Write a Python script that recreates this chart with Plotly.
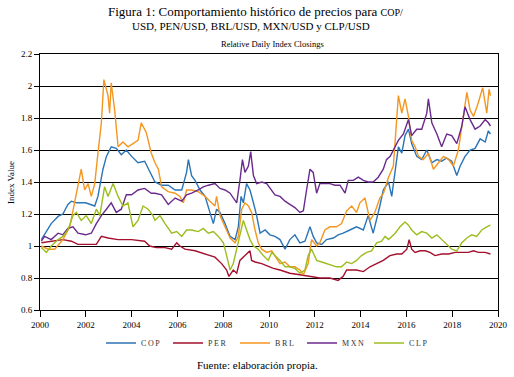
import plotly.graph_objects as go

# ---- data ----
cop_x = [2000.06, 2000.49, 2000.79, 2001.00, 2001.22, 2001.37, 2001.59, 2001.99, 2002.39, 2002.53,
         2002.75, 2002.90, 2003.11, 2003.33, 2003.55, 2003.77, 2004.00, 2004.28, 2004.57, 2004.86,
         2005.02, 2005.31, 2005.60, 2005.90, 2006.19, 2006.40, 2006.48, 2006.62, 2006.77, 2006.99,
         2007.21, 2007.42, 2007.57, 2007.71, 2007.86, 2008.08, 2008.30, 2008.52, 2008.66, 2008.78,
         2008.88, 2009.02, 2009.17, 2009.32, 2009.46, 2009.61, 2009.83, 2010.04, 2010.26, 2010.48,
         2010.70, 2010.91, 2011.13, 2011.35, 2011.57, 2011.79, 2011.93, 2012.08, 2012.30, 2012.51,
         2012.81, 2013.02, 2013.24, 2013.53, 2013.82, 2014.12, 2014.33, 2014.55, 2014.70, 2014.84,
         2014.99, 2015.22, 2015.36, 2015.51, 2015.65, 2015.80, 2015.94, 2016.09, 2016.23, 2016.45,
         2016.67, 2016.89, 2017.11, 2017.33, 2017.54, 2017.76, 2017.98, 2018.20, 2018.35, 2018.56,
         2018.78, 2019.00, 2019.22, 2019.44, 2019.58, 2019.67]
cop_y = [1.04, 1.14, 1.185, 1.20, 1.26, 1.28, 1.27, 1.27, 1.25, 1.31,
         1.48, 1.56, 1.62, 1.61, 1.57, 1.60, 1.56, 1.52, 1.53, 1.44,
         1.40, 1.38, 1.38, 1.35, 1.35, 1.46, 1.54, 1.44, 1.41, 1.35,
         1.31, 1.21, 1.14, 1.23, 1.21, 1.14, 1.06, 1.04, 1.12, 1.31,
         1.27, 1.39, 1.35, 1.27, 1.19, 1.08, 1.10, 1.07, 1.06, 1.04,
         0.98, 1.04, 1.07, 1.02, 1.03, 1.12, 1.06, 1.02, 1.01, 1.04,
         1.05, 1.07, 1.08, 1.10, 1.12, 1.10, 1.19, 1.08, 1.16, 1.25,
         1.35, 1.40, 1.31, 1.48, 1.62, 1.58, 1.69, 1.73, 1.64, 1.56,
         1.54, 1.60, 1.52, 1.54, 1.53, 1.55, 1.53, 1.44, 1.50, 1.56,
         1.60, 1.61, 1.67, 1.65, 1.72, 1.70]

per_x = [2000.06, 2000.49, 2001.00, 2001.37, 2001.66, 2002.10, 2002.46, 2002.68, 2002.97, 2003.41,
         2004.00, 2004.57, 2004.79, 2005.08, 2005.46, 2005.75, 2005.97, 2006.11, 2006.33, 2006.77,
         2007.21, 2007.64, 2007.93, 2008.15, 2008.25, 2008.44, 2008.59, 2008.73, 2008.95, 2009.17,
         2009.24, 2009.39, 2009.68, 2009.97, 2010.19, 2010.48, 2010.91, 2011.35, 2011.79, 2012.22,
         2012.66, 2013.02, 2013.24, 2013.39, 2013.82, 2014.12, 2014.41, 2014.70, 2014.99, 2015.28,
         2015.58, 2015.80, 2016.02, 2016.12, 2016.23, 2016.38, 2016.60, 2016.82, 2017.03, 2017.25,
         2017.54, 2017.84, 2018.13, 2018.42, 2018.71, 2018.93, 2019.15, 2019.44, 2019.67]
per_y = [1.02, 1.03, 1.04, 1.03, 1.01, 1.01, 1.01, 1.06, 1.05, 1.04,
         1.04, 1.03, 1.00, 0.99, 0.99, 0.98, 1.02, 1.00, 0.98, 0.97,
         0.95, 0.93, 0.89, 0.85, 0.81, 0.85, 0.83, 0.91, 0.94, 0.97,
         0.91, 0.90, 0.89, 0.87, 0.86, 0.85, 0.83, 0.82, 0.81, 0.80,
         0.80, 0.785, 0.81, 0.85, 0.85, 0.84, 0.87, 0.89, 0.91, 0.94,
         0.95, 0.95, 0.98, 1.04, 0.98, 0.96, 0.97, 0.97, 0.96, 0.94,
         0.95, 0.95, 0.96, 0.96, 0.96, 0.97, 0.96, 0.96, 0.95]

brl_x = [2000.06, 2000.35, 2000.64, 2001.00, 2001.30, 2001.51, 2001.73, 2001.80, 2001.95, 2002.10,
         2002.24, 2002.39, 2002.53, 2002.68, 2002.79, 2002.97, 2003.04, 2003.11, 2003.26, 2003.41,
         2003.62, 2003.84, 2004.06, 2004.28, 2004.42, 2004.64, 2004.86, 2005.02, 2005.17, 2005.31,
         2005.60, 2005.90, 2006.11, 2006.26, 2006.40, 2006.62, 2006.91, 2007.21, 2007.42, 2007.64,
         2007.71, 2007.86, 2008.08, 2008.30, 2008.52, 2008.66, 2008.81, 2008.95, 2009.10, 2009.24,
         2009.39, 2009.53, 2009.68, 2009.90, 2010.12, 2010.26, 2010.48, 2010.70, 2010.91, 2011.13,
         2011.35, 2011.50, 2011.71, 2011.86, 2012.08, 2012.22, 2012.44, 2012.66, 2012.95, 2013.17,
         2013.39, 2013.61, 2013.82, 2013.97, 2014.19, 2014.41, 2014.62, 2014.84, 2015.00, 2015.22,
         2015.43, 2015.65, 2015.80, 2015.94, 2016.09, 2016.23, 2016.38, 2016.53, 2016.74, 2016.96,
         2017.18, 2017.40, 2017.62, 2017.84, 2018.05, 2018.27, 2018.49, 2018.64, 2018.78, 2018.93,
         2019.15, 2019.33, 2019.51, 2019.61, 2019.67]
brl_y = [1.00, 0.98, 0.98, 1.04, 1.12, 1.27, 1.41, 1.48, 1.35, 1.39,
         1.31, 1.39, 1.58, 1.77, 2.04, 1.94, 1.83, 2.02, 1.85, 1.62,
         1.65, 1.62, 1.64, 1.66, 1.77, 1.71, 1.58, 1.52, 1.48, 1.37,
         1.34, 1.33, 1.31, 1.27, 1.35, 1.35, 1.34, 1.31, 1.28, 1.25,
         1.31, 1.19, 1.12, 1.05, 1.02, 1.06, 1.23, 1.27, 1.25, 1.21,
         1.10, 1.02, 0.98, 0.96, 0.97, 0.94, 0.89, 0.90, 0.87, 0.87,
         0.85, 0.82, 0.89, 1.04, 1.00, 1.02, 1.10, 1.12, 1.12, 1.14,
         1.22, 1.25, 1.21, 1.27, 1.30, 1.16, 1.21, 1.30, 1.33, 1.43,
         1.50, 1.94, 1.83, 1.92, 1.81, 1.66, 1.62, 1.56, 1.54, 1.58,
         1.48, 1.52, 1.56, 1.54, 1.50, 1.60, 1.81, 1.96, 1.85, 1.81,
         1.90, 1.99, 1.83, 1.98, 1.94]

mxn_x = [2000.06, 2000.20, 2000.49, 2000.79, 2001.00, 2001.22, 2001.44, 2001.66, 2001.99, 2002.24,
         2002.46, 2002.68, 2002.90, 2003.11, 2003.33, 2003.55, 2003.77, 2004.00, 2004.28, 2004.57,
         2004.86, 2005.02, 2005.31, 2005.60, 2005.90, 2006.19, 2006.40, 2006.62, 2006.91, 2007.13,
         2007.35, 2007.64, 2007.86, 2008.08, 2008.30, 2008.59, 2008.73, 2008.84, 2008.95, 2009.10,
         2009.20, 2009.32, 2009.46, 2009.68, 2009.90, 2010.12, 2010.26, 2010.48, 2010.70, 2010.91,
         2011.13, 2011.35, 2011.50, 2011.64, 2011.79, 2011.93, 2012.08, 2012.22, 2012.44, 2012.66,
         2012.88, 2013.10, 2013.32, 2013.46, 2013.68, 2013.90, 2014.12, 2014.33, 2014.55, 2014.77,
         2014.99, 2015.13, 2015.29, 2015.51, 2015.65, 2015.87, 2016.09, 2016.23, 2016.45, 2016.67,
         2016.89, 2016.96, 2017.11, 2017.33, 2017.54, 2017.76, 2017.98, 2018.20, 2018.42, 2018.56,
         2018.78, 2019.00, 2019.22, 2019.44, 2019.58, 2019.67]
mxn_y = [1.03, 1.06, 1.04, 1.08, 1.07, 1.11, 1.12, 1.08, 1.07, 1.08,
         1.14, 1.19, 1.23, 1.27, 1.21, 1.23, 1.32, 1.32, 1.35, 1.36,
         1.33, 1.33, 1.32, 1.26, 1.30, 1.28, 1.32, 1.33, 1.35, 1.37,
         1.38, 1.39, 1.36, 1.35, 1.33, 1.27, 1.41, 1.54, 1.46, 1.50,
         1.59, 1.44, 1.39, 1.40, 1.39, 1.35, 1.32, 1.31, 1.28, 1.26,
         1.24, 1.21, 1.22, 1.35, 1.48, 1.46, 1.33, 1.39, 1.39, 1.39,
         1.38, 1.38, 1.33, 1.41, 1.41, 1.43, 1.41, 1.40, 1.40, 1.43,
         1.48, 1.54, 1.56, 1.62, 1.66, 1.70, 1.79, 1.69, 1.73, 1.73,
         1.83, 1.92, 1.77, 1.70, 1.62, 1.70, 1.69, 1.64, 1.75, 1.87,
         1.79, 1.73, 1.75, 1.79, 1.77, 1.75]

clp_x = [2000.06, 2000.28, 2000.49, 2000.79, 2001.00, 2001.22, 2001.44, 2001.59, 2001.80, 2002.02,
         2002.24, 2002.46, 2002.61, 2002.82, 2002.97, 2003.19, 2003.41, 2003.62, 2003.84, 2004.06,
         2004.28, 2004.50, 2004.72, 2004.93, 2005.02, 2005.24, 2005.46, 2005.75, 2005.97, 2006.19,
         2006.40, 2006.62, 2006.91, 2007.13, 2007.35, 2007.57, 2007.79, 2008.01, 2008.15, 2008.30,
         2008.44, 2008.59, 2008.73, 2008.88, 2009.02, 2009.17, 2009.32, 2009.53, 2009.75, 2009.97,
         2010.12, 2010.26, 2010.48, 2010.70, 2010.91, 2011.13, 2011.35, 2011.57, 2011.71, 2011.86,
         2012.08, 2012.30, 2012.51, 2012.73, 2012.95, 2013.17, 2013.39, 2013.61, 2013.82, 2014.04,
         2014.26, 2014.48, 2014.70, 2014.92, 2015.07, 2015.22, 2015.51, 2015.72, 2015.94, 2016.09,
         2016.23, 2016.45, 2016.67, 2016.89, 2017.11, 2017.33, 2017.54, 2017.76, 2017.98, 2018.20,
         2018.42, 2018.64, 2018.85, 2019.07, 2019.29, 2019.51, 2019.67]
clp_y = [0.99, 0.96, 1.00, 1.04, 1.06, 1.10, 1.19, 1.21, 1.16, 1.19,
         1.14, 1.23, 1.19, 1.37, 1.31, 1.39, 1.31, 1.25, 1.27, 1.12,
         1.16, 1.25, 1.23, 1.19, 1.16, 1.19, 1.14, 1.08, 1.09, 1.06,
         1.10, 1.10, 1.09, 1.11, 1.08, 1.09, 1.06, 1.02, 0.94, 0.85,
         0.89, 0.98, 1.06, 1.16, 1.10, 1.04, 1.00, 0.98, 0.94, 0.91,
         0.96, 0.94, 0.91, 0.87, 0.87, 0.86, 0.83, 0.85, 0.94, 0.98,
         0.91, 0.90, 0.89, 0.88, 0.87, 0.87, 0.90, 0.89, 0.91, 0.94,
         0.96, 0.97, 1.02, 1.03, 1.06, 1.04, 1.08, 1.12, 1.15, 1.13,
         1.10, 1.07, 1.09, 1.08, 1.05, 1.07, 1.04, 1.01, 0.98, 0.97,
         1.02, 1.05, 1.07, 1.06, 1.10, 1.12, 1.13]

series_names = ["COP", "PER", "BRL", "MXN", "CLP"]
series_colors = ["#2b74b6", "#a3112e", "#f4961f", "#6a2a8e", "#9cbd1e"]
x_ticks = [2000, 2002, 2004, 2006, 2008, 2010, 2012, 2014, 2016, 2018, 2020]
y_ticks = [0.6, 0.8, 1, 1.2, 1.4, 1.6, 1.8, 2, 2.2]

FONT = "Liberation Serif, Times New Roman, serif"

W, H = 514, 377
ML, MR, MT, MB = 40, 16, 54, 67
PW, PH = W - ML - MR, H - MT - MB


def px_x(px):
    return (px - ML) / PW


def px_y(py):
    return 1 - (py - MT) / PH


fig = go.Figure()
data = [(cop_x, cop_y), (per_x, per_y), (brl_x, brl_y), (mxn_x, mxn_y), (clp_x, clp_y)]
for (xs, ys), name, color in zip(data, series_names, series_colors):
    fig.add_trace(go.Scatter(x=xs, y=ys, mode="lines", name="\u2009".join(name),
                             line=dict(color=color, width=1.4)))

fig.update_layout(
    width=W, height=H,
    margin=dict(l=ML, r=MR, t=MT, b=MB, autoexpand=False),
    paper_bgcolor="white", plot_bgcolor="white",
    font=dict(family=FONT, size=9, color="black"),
    showlegend=True,
    legend=dict(orientation="h", x=px_x(101), xanchor="left", y=px_y(343), yanchor="middle",
                bgcolor="rgba(0,0,0,0)",
                font=dict(family=FONT, size=8, color="#333"),
                entrywidth=22, entrywidthmode="pixels", itemwidth=30,
                tracegroupgap=0),
    xaxis=dict(range=[2000, 2020], tickvals=x_ticks, ticktext=[str(v) for v in x_ticks],
               showgrid=False, zeroline=False, showline=True, linecolor="black", linewidth=1,
               mirror=True, ticks="outside", ticklen=6, tickcolor="black", automargin=False,
               tickfont=dict(family=FONT, size=9)),
    yaxis=dict(range=[0.6, 2.2], tickvals=y_ticks, ticktext=[f"{v:g}" for v in y_ticks],
               showgrid=True, gridcolor="black", gridwidth=1, zeroline=False,
               showline=True, linecolor="black", linewidth=1, mirror=True,
               ticks="outside", ticklen=5, tickcolor="black", automargin=False,
               tickfont=dict(family=FONT, size=9)),
)

texts = [
    ("Figura 1: Comportamiento histórico de precios para <span style='font-size:10px'>COP/</span>", 255, 11, 13, 0),
    ("USD, PEN/USD, BRL/USD, MXN/USD y CLP/USD", 251, 26, 11, 0),
    ("Relative Daily Index Closings", 272, 44, 8.5, 0),
    ("Fuente: elaboración propia.", 257, 365, 11, 0),
    ("Index Value", 11, 183, 9, -90),
]
for txt, x, y, size, ang in texts:
    fig.add_annotation(text=txt, xref="paper", yref="paper", x=px_x(x), y=px_y(y),
                       xanchor="center", yanchor="middle", showarrow=False, textangle=ang,
                       font=dict(family=FONT, size=size, color="black"))

fig.write_html("out.html", config={"displayModeBar": False},
               post_script="document.body.style.margin='0';document.body.style.overflow='hidden';")
